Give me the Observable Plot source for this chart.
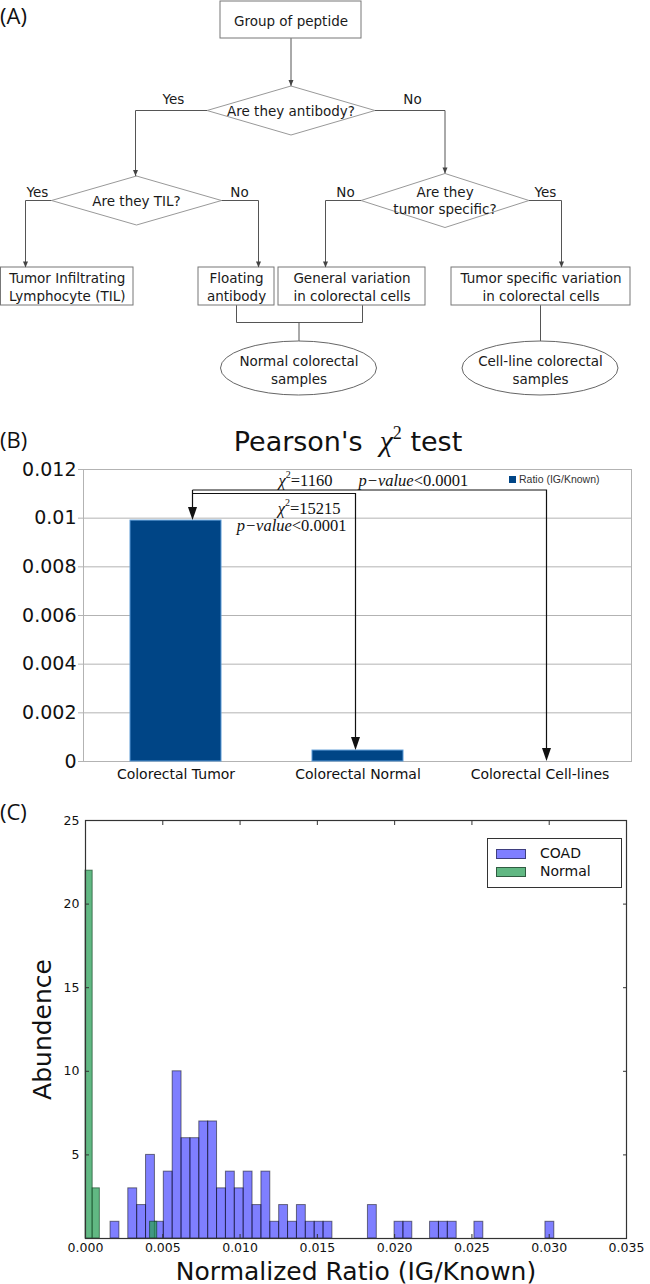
<!DOCTYPE html>
<html><head><meta charset="utf-8">
<script src="https://cdn.jsdelivr.net/npm/d3@7"></script>
<script src="https://cdn.jsdelivr.net/npm/@observablehq/plot@0.6"></script>
<style>
body{margin:0;background:#fff}
#page{position:relative;width:650px;height:1284px;overflow:hidden;background:#fff;font-family:"DejaVu Sans",sans-serif;color:#111}
.plab{position:absolute;font-family:"Open Sans","DejaVu Sans",sans-serif;font-size:22px;line-height:1;color:#111}
</style></head><body>
<div id="page"></div>
<script>
// ================= DATA =================
// Panel A – flowchart content
const flowBoxes = [
  {id:"root", text:"Group of peptide"},
  {id:"til", text:"Tumor Infiltrating\nLymphocyte (TIL)"},
  {id:"float", text:"Floating\nantibody"},
  {id:"general", text:"General variation\nin colorectal cells"},
  {id:"tspec", text:"Tumor specific variation\nin colorectal cells"}
];
const flowDecisions = [
  {id:"q1", text:"Are they antibody?"},
  {id:"q2", text:"Are they TIL?"},
  {id:"q3", text:"Are they\ntumor specific?"}
];
const flowSamples = [
  {id:"normal", text:"Normal colorectal\nsamples"},
  {id:"cell", text:"Cell-line colorectal\nsamples"}
];
const flowEdges = [
  {from:"root", to:"q1", label:"", arrow:true},
  {from:"q1", to:"q2", label:"Yes", arrow:true},
  {from:"q1", to:"q3", label:"No", arrow:true},
  {from:"q2", to:"til", label:"Yes", arrow:true},
  {from:"q2", to:"float", label:"No", arrow:true},
  {from:"q3", to:"general", label:"No", arrow:true},
  {from:"q3", to:"tspec", label:"Yes", arrow:true},
  {from:"float", to:"normal", label:"", arrow:false},
  {from:"general", to:"normal", label:"", arrow:false},
  {from:"tspec", to:"cell", label:"", arrow:false}
];

// Panel B – Pearson's chi-square bar chart
const categoriesB = ["Colorectal Tumor", "Colorectal Normal", "Colorectal Cell-lines"];
const ratioB = [0.0099, 0.00045, 0];
const yTicksB = [0, 0.002, 0.004, 0.006, 0.008, 0.01, 0.012];
const seriesB = "Ratio (IG/Known)";
const chiTests = [
  {from:"Colorectal Tumor", to:"Colorectal Cell-lines", chi2:"1160", p:"0.0001"},
  {from:"Colorectal Tumor", to:"Colorectal Normal", chi2:"15215", p:"0.0001"}
];

// Panel C – histogram (50 bins COAD, 10 bins Normal)
const seriesC = ["COAD", "Normal"];
const coadRange = [0.00162, 0.03033];
const coadCounts = [1,0,3,2,5,1,4,10,6,6, 7,7,3,4,3,4,2,4,1,2, 1,2,1,1,1,0,0,0,0,2, 0,0,1,1,0,0,1,1,1,0, 0,1,0,0,0,0,0,0,0,1];
const normalRange = [0, 0.00464];
const normalCounts = [22,3,0,0,0,0,0,0,0,1];
const xTicksC = [0, 0.005, 0.010, 0.015, 0.020, 0.025, 0.030, 0.035];
const yTicksC = [5, 10, 15, 20, 25];

// ================= LAYOUT (geometry only) =================
const layoutA = {
  root:{x1:220,x2:361,y1:1,y2:38},
  til:{x1:0.5,x2:133,y1:267,y2:305},
  float:{x1:198,x2:274,y1:267,y2:305},
  general:{x1:278,x2:425,y1:267,y2:305},
  tspec:{x1:451,x2:630,y1:267,y2:305},
  q1:{cx:290.5,cy:110,hw:84,hh:24.5},
  q2:{cx:136,cy:200,hw:85,hh:24.5},
  q3:{cx:444.5,cy:200,hw:84,hh:27},
  normal:{cx:298.5,cy:368,rx:78,ry:27},
  cell:{cx:540,cy:368,rx:78,ry:27}
};
const routesA = {
  "root-q1": [[290.5,38],[290.5,85.5]],
  "q1-q2": [[206.5,110],[135,110],[135,175.5]],
  "q1-q3": [[374.5,110],[444.5,110],[444.5,173]],
  "q2-til": [[51,200],[25,200],[25,267]],
  "q2-float": [[221,200],[258,200],[258,267]],
  "q3-general": [[360.5,200],[325,200],[325,267]],
  "q3-tspec": [[528.5,200],[561,200],[561,267]],
  "float-normal": [[236,305],[236,322],[298.5,322],[298.5,341]],
  "general-normal": [[362,305],[362,322],[298.5,322]],
  "tspec-cell": [[540,305],[540,341]]
};
const labelPosA = {"q1-q2":[173,99],"q1-q3":[412,99],"q2-til":[37,192],"q2-float":[239,192],"q3-general":[345,192],"q3-tspec":[545,192]};

// ================= HELPERS =================
const page = document.getElementById("page");
function put(el, top, left = 0) {
  el.style.position = "absolute"; el.style.top = top + "px"; el.style.left = left + "px";
  page.appendChild(el); return el;
}
function html(str, top, left, style = "") {
  const d = document.createElement("div"); d.innerHTML = str; d.setAttribute("style", style);
  return put(d, top, left);
}
const downTri = (len, half) => ({draw(ctx) { ctx.moveTo(0, 0); ctx.lineTo(-half, -len); ctx.lineTo(half, -len); ctx.closePath(); }});

// ================= PANEL A =================
const boxRows = flowBoxes.map(d => ({...d, ...layoutA[d.id], cx:(layoutA[d.id].x1+layoutA[d.id].x2)/2, cy:(layoutA[d.id].y1+layoutA[d.id].y2)/2}));
const diamondRows = flowDecisions.flatMap(d => {
  const g = layoutA[d.id];
  return [[g.cx,g.cy-g.hh],[g.cx+g.hw,g.cy],[g.cx,g.cy+g.hh],[g.cx-g.hw,g.cy],[g.cx,g.cy-g.hh]].map(([x,y]) => ({id:d.id, x, y}));
});
const decisionText = flowDecisions.map(d => ({...d, cx:layoutA[d.id].cx, cy:layoutA[d.id].cy}));
const sampleRows = flowSamples.map(d => ({...d, ...layoutA[d.id]}));
const edgeRows = flowEdges.flatMap(e => routesA[e.from + "-" + e.to].map(([x,y]) => ({edge:e.from + "-" + e.to, x, y})));
const arrowTips = flowEdges.filter(e => e.arrow).map(e => { const r = routesA[e.from + "-" + e.to]; const [x,y] = r[r.length-1]; return {x, y}; });
const edgeLabels = flowEdges.filter(e => e.label).map(e => { const [x,y] = labelPosA[e.from + "-" + e.to]; return {text:e.label, x, y}; });

function ellipseMark(items) {
  return (index, scales) => {
    const g = d3.create("svg:g").attr("fill", "white").attr("stroke", "#666").attr("stroke-width", 1);
    for (const d of items) {
      g.append("ellipse").attr("cx", scales.x(d.cx)).attr("cy", scales.y(d.cy))
        .attr("rx", Math.abs(scales.x(d.cx + d.rx) - scales.x(d.cx)))
        .attr("ry", Math.abs(scales.y(d.cy + d.ry) - scales.y(d.cy)));
    }
    return g.node();
  };
}

const plotA = Plot.plot({
  width: 650, height: 400, margin: 0,
  x: {domain: [0, 650], range: [0, 650], axis: null},
  y: {domain: [0, 400], range: [0, 400], axis: null},
  style: {fontFamily: "DejaVu Sans, sans-serif", fontSize: "13.5px", background: "transparent", color: "#1a1a1a"},
  marks: [
    Plot.line(edgeRows, {x: "x", y: "y", z: "edge", stroke: "#555", strokeWidth: 1}),
    Plot.line(diamondRows, {x: "x", y: "y", z: "id", stroke: "#999", strokeWidth: 1, fill: "white"}),
    Plot.rect(boxRows, {x1: "x1", x2: "x2", y1: "y1", y2: "y2", fill: "white", stroke: "#777", strokeWidth: 1}),
    ellipseMark(sampleRows),
    Plot.dot(arrowTips, {x: "x", y: "y", symbol: downTri(6, 2.5), fill: "#444", stroke: "none"}),
    Plot.text(boxRows, {x: "cx", y: "cy", text: "text", lineHeight: 1.3, fill: "#1a1a1a"}),
    Plot.text(decisionText, {x: "cx", y: "cy", text: "text", lineHeight: 1.25, fill: "#1a1a1a"}),
    Plot.text(sampleRows, {x: "cx", y: "cy", text: "text", lineHeight: 1.35, fill: "#1a1a1a", dy: 1}),
    Plot.text(edgeLabels, {x: "x", y: "y", text: "text", fill: "#1a1a1a"})
  ]
});
put(plotA, 0, 0);
html("(A)", 4, 0, "").className = "plab";

// ================= PANEL B =================
const dataB = categoriesB.map((c, i) => ({category: c, ratio: ratioB[i]}));
const offsB = {"Colorectal Tumor": 17, "Colorectal Normal": -2, "Colorectal Cell-lines": 7};
const levelsB = [21, 24.5];

function chiMark(tests, values) {
  return (index, scales) => {
    const x = scales.x, y = scales.y, bw = x.bandwidth ? x.bandwidth() : 0;
    const px = c => x(c) + bw / 2 + offsB[c];
    const top = y(0.012);
    const g = d3.create("svg:g");
    const ln = g.append("g").attr("stroke", "#111").attr("stroke-width", 1.2).attr("fill", "none");
    const heads = g.append("g").attr("fill", "#111");
    const head = (xx, yy) => heads.append("path").attr("d", `M${xx},${yy}L${xx-4.5},${yy-13}L${xx+4.5},${yy-13}Z`);
    const startX = px(tests[0].from);
    const srcTip = y(values[tests[0].from]);
    ln.append("path").attr("d", `M${startX},${top + levelsB[0]}V${srcTip - 12}`);
    head(startX, srcTip);
    tests.forEach((t, i) => {
      const lev = top + levelsB[i];
      const tx = px(t.to), tip = y(values[t.to]);
      ln.append("path").attr("d", `M${startX},${lev}H${tx}V${tip - 12}`);
      head(tx, tip);
    });
    const xN = px("Colorectal Normal");
    const T = g.append("g").attr("font-family", "Liberation Serif, DejaVu Serif, serif").attr("font-size", 16.5).attr("fill", "#111");
    function chi(xx, yy, val) {
      const t = T.append("text").attr("x", xx).attr("y", yy).attr("text-anchor", "end").attr("dominant-baseline", "middle");
      t.append("tspan").attr("font-style", "italic").text("χ");
      t.append("tspan").attr("dy", -6).attr("font-size", 10).text("2");
      t.append("tspan").attr("dy", 6).text("=" + val);
    }
    function pv(xx, yy, anchor, val) {
      const t = T.append("text").attr("x", xx).attr("y", yy).attr("text-anchor", anchor).attr("dominant-baseline", "middle");
      t.append("tspan").attr("font-style", "italic").text("p−value");
      t.append("tspan").text("<" + val);
    }
    chi(xN - 23, top + levelsB[0] - 8, tests[0].chi2);
    pv(xN + 3, top + levelsB[0] - 8, "start", tests[0].p);
    chi(xN - 15, top + levelsB[1] + 16, tests[1].chi2);
    pv(xN - 9, top + levelsB[1] + 33, "end", tests[1].p);
    return g.node();
  };
}
const valueByCat = Object.fromEntries(dataB.map(d => [d.category, d.ratio]));

const plotB = Plot.plot({
  width: 650, height: 340, marginTop: 14, marginBottom: 34, marginLeft: 83, marginRight: 19,
  style: {fontFamily: "DejaVu Sans, sans-serif", fontSize: "14px", background: "transparent", color: "#111"},
  x: {domain: categoriesB, paddingInner: 0.5, paddingOuter: 0.25, label: null},
  y: {domain: [0, 0.012], label: null},
  marks: [
    Plot.gridY(yTicksB, {stroke: "#b3b3b3", strokeOpacity: 1}),
    Plot.frame({stroke: "#b3b3b3"}),
    Plot.barY(dataB, {x: "category", y: "ratio", filter: d => d.ratio > 0, fill: "#004586", stroke: "#5a9ad6", strokeWidth: 1}),
    Plot.axisY(yTicksB, {tickSize: 5, tickPadding: 2, stroke: "#b3b3b3", fontSize: 19, tickFormat: d => String(d), label: null}),
    Plot.axisX({tickSize: 0, tickPadding: 8, fontSize: 14, label: null}),
    chiMark(chiTests, valueByCat)
  ]
});
put(plotB, 455, 0);
html("(B)", 428, 0, "").className = "plab";
html(`Pearson's&nbsp;&nbsp;<span style="font-family:'Liberation Serif',serif;font-style:italic;font-size:30px">χ</span><span style="font-family:'Liberation Serif',serif;font-size:18px;position:relative;top:-12px">2</span> test`,
  424, 0, "width:696px;text-align:center;font-family:'DejaVu Sans',sans-serif;font-size:27px;line-height:34px;color:#111;white-space:nowrap");
html(`<span style="display:inline-block;width:7px;height:7px;background:#004586;margin-right:3px;vertical-align:0px"></span>${seriesB}`,
  473, 509, "font-family:'Liberation Sans',Arial,sans-serif;font-size:10.5px;color:#333;white-space:nowrap;line-height:12px");

// ================= PANEL C =================
function bins(counts, range) {
  const w = (range[1] - range[0]) / counts.length;
  return counts.map((c, i) => ({x1: range[0] + i * w, x2: range[0] + (i + 1) * w, count: c})).filter(d => d.count > 0);
}
const coadBins = bins(coadCounts, coadRange);
const normalBins = bins(normalCounts, normalRange);
const colorsC = {COAD: {fill: "#0000ff", op: 0.5, stroke: "#000", css: "rgba(0,0,255,0.5)"}, Normal: {fill: "#2ca05a", op: 0.75, stroke: "#0a3a1a", css: "rgba(44,160,90,0.75)"}};

const plotC = Plot.plot({
  width: 650, height: 484, marginTop: 20, marginBottom: 46, marginLeft: 85, marginRight: 24,
  style: {fontFamily: "DejaVu Sans, sans-serif", fontSize: "12.5px", background: "transparent", color: "#111"},
  x: {domain: [0, 0.035], label: null},
  y: {domain: [0, 25], label: null},
  marks: [
    Plot.rectY(coadBins, {x1: "x1", x2: "x2", y: "count", fill: colorsC.COAD.fill, fillOpacity: colorsC.COAD.op, stroke: colorsC.COAD.stroke, strokeOpacity: 0.5, strokeWidth: 1}),
    Plot.rectY(normalBins, {x1: "x1", x2: "x2", y: "count", fill: colorsC.Normal.fill, fillOpacity: colorsC.Normal.op, stroke: colorsC.Normal.stroke, strokeOpacity: 0.6, strokeWidth: 1}),
    Plot.frame({stroke: "#333", strokeWidth: 1.2}),
    Plot.axisX(xTicksC, {tickSize: 0, tickPadding: 5, tickFormat: d3.format(".3f"), label: null}),
    Plot.axisX(xTicksC, {tickSize: -4, fill: "none", stroke: "#333", label: null}),
    Plot.axisX(xTicksC, {anchor: "top", tickSize: -4, fill: "none", stroke: "#333", label: null}),
    Plot.axisY(yTicksC, {tickSize: 0, tickPadding: 6, label: null}),
    Plot.axisY(yTicksC, {tickSize: -4, fill: "none", stroke: "#333", label: null}),
    Plot.axisY(yTicksC, {anchor: "right", tickSize: -4, fill: "none", stroke: "#333", label: null}),
    Plot.text(["Abundence"], {frameAnchor: "left", dx: -43, rotate: -90, fontSize: 25, fill: "#111", textAnchor: "middle", lineAnchor: "middle"}),
    Plot.text(["Normalized Ratio (IG/Known)"], {frameAnchor: "bottom", dy: 33, fontSize: 25, fill: "#111", textAnchor: "middle", lineAnchor: "middle"})
  ]
});
put(plotC, 800, 0);
html("(C)", 800, 0, "").className = "plab";

// legend C
const leg = html("", 838, 487, "width:135px;height:50px;border:1px solid #333;background:#fff;box-sizing:border-box");
seriesC.forEach((s, i) => {
  const c = colorsC[s];
  const row = document.createElement("div");
  row.setAttribute("style", `position:absolute;left:8px;top:${7 + i * 18}px;height:14px;white-space:nowrap;font-family:'DejaVu Sans',sans-serif;font-size:14px;line-height:14px;color:#111`);
  row.innerHTML = `<span style="display:inline-block;width:30px;height:10px;background:${c.css};border:1px solid rgba(0,0,0,0.5);box-sizing:border-box;vertical-align:-1px;margin-right:14px"></span>${s}`;
  leg.appendChild(row);
});
</script>
</body></html>
